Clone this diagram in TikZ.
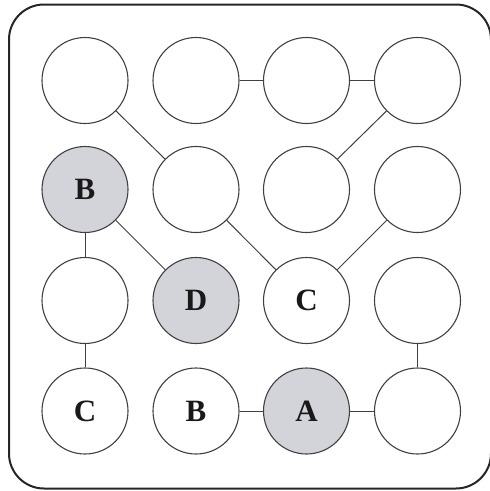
\documentclass[tikz,border=0pt]{standalone}
\usepackage{fontspec}
\setmainfont{Liberation Serif}
\definecolor{shadefill}{RGB}{211,211,218}
\begin{document}
\begin{tikzpicture}[x=1pt,y=-1pt,
  cell/.style={circle,draw=black!75,line width=1.1pt,minimum size=86pt,inner sep=0pt,fill=white,font=\fontsize{31}{31}\selectfont\bfseries,text=black!90},
  shaded/.style={cell,fill=shadefill},
  link/.style={draw=black!75,line width=1pt}]
\useasboundingbox (0,0) rectangle (490,491);
\clip (0,0) rectangle (490,491);
\draw[line width=2pt,black!85,rounded corners=35pt] (9,4.5) rectangle (491,488.5);
% grid centres
\def\xa{85}\def\xb{196}\def\xc{306.5}\def\xd{417.5}
\def\ya{80.5}\def\yb{189.5}\def\yc{300.5}\def\yd{411}
\node[cell] (n11) at (\xa,\ya) {};
\node[cell] (n12) at (\xb,\ya) {};
\node[cell] (n13) at (\xc,\ya) {};
\node[cell] (n14) at (\xd,\ya) {};
\node[shaded] (n21) at (\xa,\yb) {B};
\node[cell] (n22) at (\xb,\yb) {};
\node[cell] (n23) at (\xc,\yb) {};
\node[cell] (n24) at (\xd,\yb) {};
\node[cell] (n31) at (\xa,\yc) {};
\node[shaded] (n32) at (\xb,\yc) {D};
\node[cell] (n33) at (\xc,\yc) {C};
\node[cell] (n34) at (\xd,\yc) {};
\node[cell] (n41) at (\xa,\yd) {C};
\node[cell] (n42) at (\xb,\yd) {B};
\node[shaded] (n43) at (\xc,\yd) {A};
\node[cell] (n44) at (\xd,\yd) {};
\draw[link] (n11) -- (n22);
\draw[link] (n12) -- (n13);
\draw[link] (n13) -- (n14);
\draw[link] (n14) -- (n23);
\draw[link] (n21) -- (n31);
\draw[link] (n21) -- (n32);
\draw[link] (n22) -- (n33);
\draw[link] (n24) -- (n33);
\draw[link] (n31) -- (n41);
\draw[link] (n34) -- (n44);
\draw[link] (n42) -- (n43);
\draw[link] (n43) -- (n44);
\end{tikzpicture}
\end{document}
